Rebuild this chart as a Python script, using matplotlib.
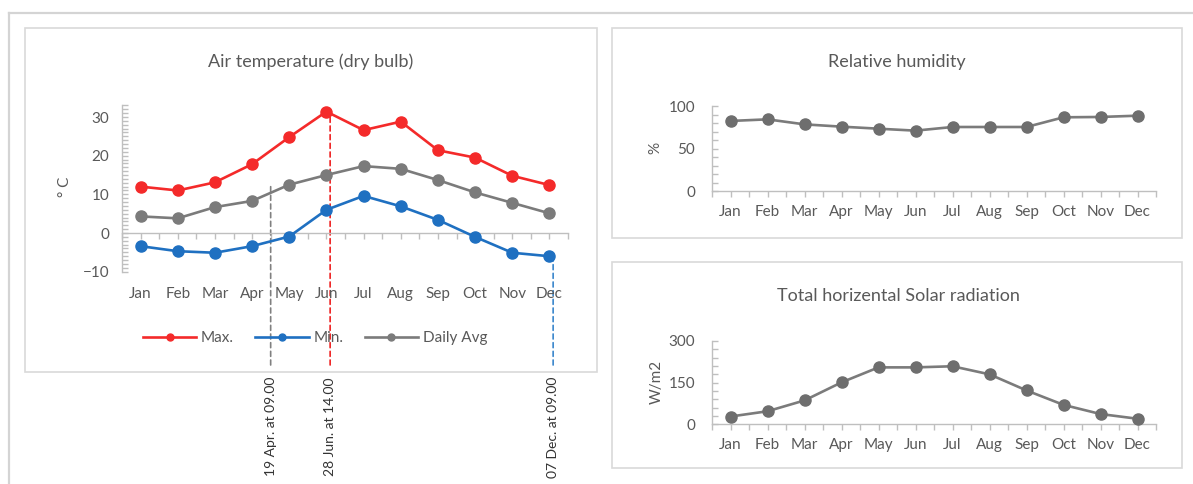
import matplotlib
matplotlib.use("Agg")
import matplotlib.pyplot as plt
from matplotlib.patches import Rectangle
from matplotlib.lines import Line2D
from matplotlib.transforms import blended_transform_factory
from matplotlib.ticker import MultipleLocator, FixedLocator

plt.rcParams['font.family'] = ['Lato', 'DejaVu Sans']

# ---------------- data ----------------
months = ['Jan', 'Feb', 'Mar', 'Apr', 'May', 'Jun', 'Jul', 'Aug', 'Sep', 'Oct', 'Nov', 'Dec']
t_max = [12.0, 11.0, 13.1, 17.8, 24.8, 31.4, 26.6, 28.8, 21.4, 19.5, 14.8, 12.4]
t_min = [-3.4, -4.7, -5.1, -3.4, -0.9, 6.0, 9.6, 6.9, 3.4, -1.0, -5.1, -6.0]
t_avg = [4.3, 3.8, 6.7, 8.3, 12.5, 15.0, 17.3, 16.6, 13.7, 10.5, 7.8, 5.1]
rel_hum = [82.4, 84.3, 78.4, 75.7, 73.3, 71.0, 75.3, 75.3, 75.3, 86.7, 87.1, 88.6]
solar = [28, 47, 86, 151, 205, 205, 209, 180, 122, 70, 37, 20]
series_names = ['Max.', 'Min.', 'Daily Avg']
event_pos = [3.5, 5.1, 11.1]          # position along month axis
event_top = [12.0, 32.0, -7.0]        # temperature where the marker line starts
event_labels = ['19 Apr. at 09.00', '28 Jun. at 14.00', '07 Dec. at 09.00']

# ---------------- style ----------------
W, H = 1193, 484
TXT = '#595959'
SPINE = '#bfbfbf'
RED = '#f42a2a'
BLUE = '#1f70c1'
GRAY = '#7b7b7b'
BOX = '#d9d9d9'
TICK_FS = 11
TITLE_FS = 13

fig = plt.figure(figsize=(W / 100, H / 100), dpi=100)


def fx(px):
    return px / W


def fy(py):
    return 1 - py / H


# outer frame lines
fig.add_artist(Line2D([fx(9), fx(9)], [fy(12.5), 0], color='#d4d4d4', lw=1.6))
fig.add_artist(Line2D([fx(9), 1], [fy(12.5), fy(12.5)], color='#d4d4d4', lw=1.6))

# panel boxes
for (x0, y0, x1, y1) in [(25, 28, 597, 372), (612, 28, 1182, 238), (612, 262, 1182, 468)]:
    fig.add_artist(Rectangle((fx(x0), fy(y1)), fx(x1) - fx(x0), fy(y0) - fy(y1),
                             transform=fig.transFigure, fill=False, ec=BOX, lw=1.2))


def style_axes(ax):
    for s in ['top', 'right']:
        ax.spines[s].set_visible(False)
    for s in ['left', 'bottom']:
        ax.spines[s].set_color(SPINE)
        ax.spines[s].set_linewidth(1.0)
    ax.set_xlim(-0.5, 11.5)
    ax.xaxis.set_major_locator(FixedLocator(range(12)))
    ax.xaxis.set_minor_locator(FixedLocator([i - 0.5 for i in range(13)]))
    ax.tick_params(axis='x', which='both', direction='out', length=4, color=SPINE, width=1)
    ax.tick_params(axis='y', which='both', direction='in', length=4, color=SPINE, width=1)
    ax.tick_params(axis='both', labelcolor=TXT, labelsize=TICK_FS)
    ax.patch.set_alpha(0)


# ---------------- left: air temperature ----------------
ax1 = fig.add_axes([fx(122), fy(271.7), fx(568) - fx(122), fy(105.4) - fy(271.7)])
style_axes(ax1)
ax1.set_ylim(-10, 33)
ax1.yaxis.set_major_locator(FixedLocator([-10, 0, 10, 20, 30]))
ax1.yaxis.set_minor_locator(MultipleLocator(1))
ax1.spines['bottom'].set_position(('data', 0))
ax1.set_xticklabels([])
ax1.tick_params(axis='y', pad=9)
tb = blended_transform_factory(ax1.transData, fig.transFigure)
for i, m in enumerate(months):
    ax1.text(i, fy(294), m, transform=tb, ha='center', va='center', fontsize=TICK_FS, color=TXT)

x = list(range(12))
ax1.plot(x, t_max, color=RED, lw=1.9, marker='o', ms=8, label=series_names[0], zorder=3)
ax1.plot(x, t_min, color=BLUE, lw=1.9, marker='o', ms=8, label=series_names[1], zorder=3)
ax1.plot(x, t_avg, color=GRAY, lw=1.9, marker='o', ms=8, label=series_names[2], zorder=3)

ev_colors = ['#808080', '#ee2222', '#3a86cc']
for xp, yt, lab, c in zip(event_pos, event_top, event_labels, ev_colors):
    ax1.annotate('', xy=(xp, yt), xycoords='data',
                 xytext=(xp, fy(365)), textcoords=('data', 'figure fraction'),
                 arrowprops=dict(arrowstyle='-', linestyle=(0, (3, 2.2)), color=c, lw=1.2,
                                 shrinkA=0, shrinkB=0),
                 annotation_clip=False, zorder=2)
    ax1.text(xp, fy(377), lab, transform=tb, rotation=90, ha='center', va='top',
             fontsize=10, color='#333333')

fig.text(fx(311), fy(62), 'Air temperature (dry bulb)', ha='center', va='center',
         fontsize=TITLE_FS, color=TXT)
fig.text(fx(65), fy(187), '° C', rotation=90, ha='center', va='center', fontsize=TICK_FS, color=TXT)

handles = [Line2D([], [], color=c, lw=1.9, marker='o', ms=5) for c in [RED, BLUE, GRAY]]
fig.legend(handles, series_names, loc='center', bbox_to_anchor=(fx(315), fy(338)),
           ncol=3, frameon=False, fontsize=TICK_FS, labelcolor=TXT, handlelength=3.5,
           handletextpad=0.3, columnspacing=1.4)

# ---------------- right top: relative humidity ----------------
ax2 = fig.add_axes([fx(712), fy(191), fx(1156) - fx(712), fy(106) - fy(191)])
style_axes(ax2)
ax2.set_ylim(0, 100)
ax2.yaxis.set_major_locator(FixedLocator([0, 50, 100]))
ax2.yaxis.set_minor_locator(MultipleLocator(10))
ax2.set_xticks(range(12))
ax2.set_xticklabels(months)
ax2.tick_params(axis='y', pad=12)
ax2.tick_params(axis='x', pad=6)
ax2.plot(x, rel_hum, color=GRAY, lw=1.9, marker='o', ms=8, mfc='#6e6e6e', mec='#6e6e6e', zorder=3, clip_on=False)
fig.text(fx(897), fy(62), 'Relative humidity', ha='center', va='center', fontsize=TITLE_FS, color=TXT)
fig.text(fx(655), fy(148), '%', rotation=90, ha='center', va='center', fontsize=TICK_FS, color=TXT)

# ---------------- right bottom: solar radiation ----------------
ax3 = fig.add_axes([fx(712), fy(424.3), fx(1156) - fx(712), fy(341) - fy(424.3)])
style_axes(ax3)
ax3.set_ylim(0, 300)
ax3.yaxis.set_major_locator(FixedLocator([0, 150, 300]))
ax3.yaxis.set_minor_locator(MultipleLocator(30))
ax3.set_xticks(range(12))
ax3.set_xticklabels(months)
ax3.tick_params(axis='y', pad=12)
ax3.tick_params(axis='x', pad=6)
ax3.plot(x, solar, color=GRAY, lw=1.9, marker='o', ms=8, mfc='#6e6e6e', mec='#6e6e6e', zorder=3, clip_on=False)
fig.text(fx(898), fy(296), 'Total horizental Solar radiation', ha='center', va='center', fontsize=TITLE_FS, color=TXT)
fig.text(fx(657), fy(382), 'W/m2', rotation=90, ha='center', va='center', fontsize=TICK_FS, color=TXT)

fig.savefig('out.png', dpi=100)
